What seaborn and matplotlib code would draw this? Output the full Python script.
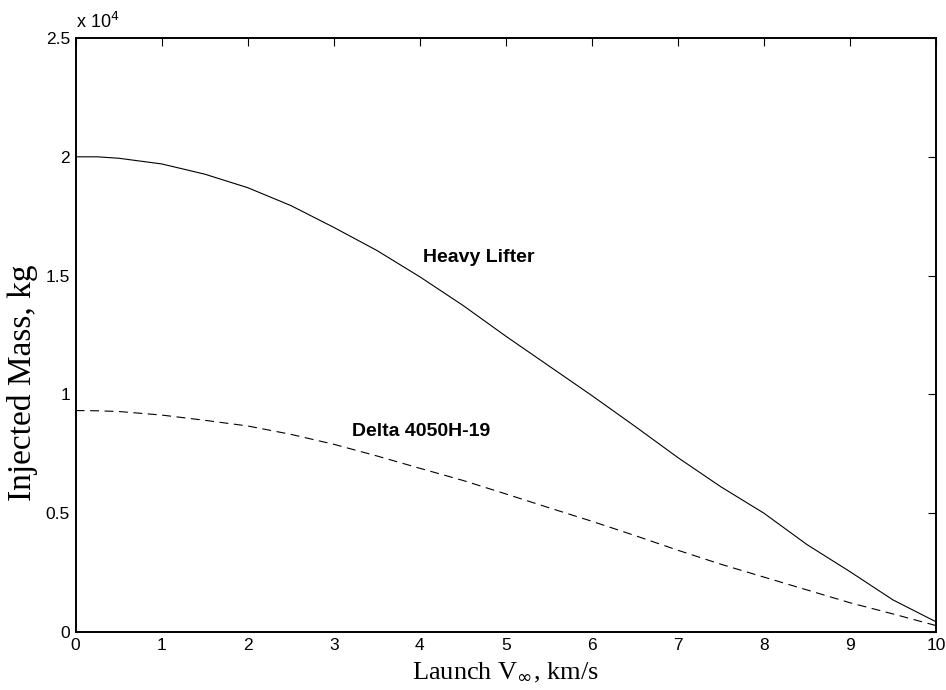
import numpy as np
import pandas as pd
import matplotlib
matplotlib.use('Agg')
import matplotlib.pyplot as plt
from matplotlib.ticker import FuncFormatter
import seaborn as sns

# 读图得到的数据：发射双曲线超速 (km/s) 与入轨质量 (kg)
v_inf = [0, 0.25, 0.5, 1.0, 1.5, 2.0, 2.5, 3.0, 3.5, 4.0, 4.5, 5.0,
         5.5, 6.0, 6.5, 7.0, 7.5, 8.0, 8.5, 9.0, 9.5, 10.0]
heavy_lifter = [20000, 20000, 19940, 19700, 19270, 18700, 17950, 17030, 16060, 14950, 13750, 12450,
                11200, 9950, 8660, 7340, 6110, 5000, 3680, 2540, 1350, 430]
delta_4050 = [9320, 9310, 9280, 9130, 8910, 8670, 8320, 7900, 7410, 6890, 6380, 5810,
              5230, 4660, 4060, 3440, 2850, 2310, 1770, 1230, 760, 270]
names = ['Heavy Lifter', 'Delta 4050H-19']

df = pd.DataFrame({
    'v': v_inf * 2,
    'mass': heavy_lifter + delta_4050,
    'vehicle': [names[0]] * len(v_inf) + [names[1]] * len(v_inf),
})

sns.set_style('white')
plt.rcParams['font.family'] = ['Liberation Sans', 'DejaVu Sans']
plt.rcParams['text.color'] = 'black'
plt.rcParams['axes.labelcolor'] = 'black'

fig = plt.figure(figsize=(9.46, 6.9), dpi=100)
ax = fig.add_axes([0.080, 0.0841, 0.9094, 0.8608])

sns.lineplot(data=df, x='v', y='mass', style='vehicle', estimator=None, sort=False,
             dashes={names[0]: '', names[1]: (8, 5)}, color='black', linewidth=0.8,
             legend=False, ax=ax)

ax.set_xlim(0, 10)
ax.set_ylim(0, 25000)
ax.set_xticks(range(0, 11))
ax.set_yticks(np.arange(0, 25001, 5000))
ax.yaxis.set_major_formatter(FuncFormatter(lambda y, p: '%g' % (y / 1e4)))

for s in ax.spines.values():
    s.set_visible(True)
    s.set_color('black')
    s.set_linewidth(1.4)
ax.tick_params(direction='in', length=6, width=0.8, top=True, right=True,
               labelsize=12.5, pad=4, colors='black')

# 坐标轴标签
ax.set_xlabel(r'Launch V$_\infty$, km/s', family='Liberation Serif', fontsize=19, labelpad=6)
ax.set_ylabel('Injected Mass, kg', family='Liberation Serif', fontsize=24)
ax.yaxis.set_label_coords(-0.044, 0.42)

# 数量级
ax.text(0.0, 1.01, r'x 10$^{4}$', transform=ax.transAxes, fontsize=13,
        ha='left', va='bottom')

# 曲线名称
ax.text(4.04, 15750, 'Heavy Lifter', fontsize=14, fontweight='bold', va='center')
ax.text(3.21, 8450, 'Delta 4050H-19', fontsize=14, fontweight='bold', va='center')

fig.savefig('out.png', dpi=100, facecolor='white')
